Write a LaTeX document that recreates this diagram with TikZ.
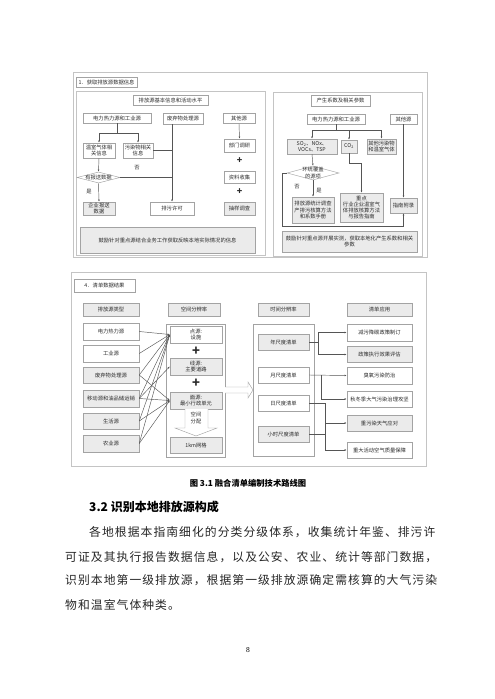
\documentclass[tikz,border=0pt]{standalone}
\usepackage{fontspec}
\setmainfont{Noto Sans CJK SC}
\newfontfamily\bodyfont[LetterSpace=9]{Noto Sans CJK SC}
\newfontfamily\numfont{Liberation Serif}
\usepackage{tikz}
\usetikzlibrary{arrows.meta,shapes.geometric}
\definecolor{pgframe}{HTML}{C4C4C4}
\definecolor{pgbox}{HTML}{A3A3A3}
\definecolor{pgfill}{HTML}{EBEBEB}
\definecolor{pgline}{HTML}{555555}
\definecolor{pgtext}{HTML}{2B2B2B}

\begin{document}
\begin{tikzpicture}[
 x=1pt,y=-1pt,>={Latex[length=2.2pt,width=1.8pt]},
 font=\fontsize{5.3}{6.3}\selectfont,
 frm/.style={draw=pgframe,line width=0.7pt,inner sep=0pt},
 bx/.style={draw=pgbox,line width=0.45pt,fill=white,inner sep=0.5pt,
   align=center,text=pgtext},
 gbx/.style={bx,fill=pgfill},
 sz/.style 2 args={minimum width=#1,minimum height=#2},
 dia/.style={diamond,draw=pgbox,line width=0.45pt,fill=white,aspect=4,
   inner xsep=-4pt,inner ysep=-2pt,align=center,text=pgtext},
 flow/.style={->,draw=pgline,line width=0.45pt},
 link/.style={draw=pgline,line width=0.45pt},
 lbl/.style={text=pgtext},
 plus/.style={text=pgtext,font=\fontsize{#1}{#1}\selectfont\bfseries},
 hollow/.style={draw=pgbox,line width=0.45pt,fill=white}
]
\useasboundingbox (0,0) rectangle (495,699);

% 1. source data
\node[frm,sz={354}{185}] (panA) at (250,164.5) {};
\node[bx,sz={61}{10}] (titleA) at (106.5,82) {1．获取排放源数据信息};
\node[frm,sz={189}{164}] (actA) at (170.5,173) {};
\node[frm,sz={149}{164}] (facB) at (347.5,174) {};

\node[bx,sz={75}{10}] (hdrA) at (170.5,100) {排放源基本信息和活动水平};
\node[bx,sz={68}{10}] (elecA) at (117,118) {电力热力源和工业源};
\node[bx,sz={40}{11}] (wasteA) at (183,118.5) {废弃物处理源};
\node[bx,sz={32}{10}] (otherA) at (239,118.5) {其他源};
\node[bx,sz={32}{15}] (ghgA) at (99,150.5) {温室气体相\\关信息};
\node[bx,sz={30}{15}] (polA) at (138,150.5) {污染物相关\\信息};
\node[dia,minimum width=43,minimum height=11] (diaA) at (98.5,177.5) {有报送数据};
\node[gbx,sz={32}{13}] (entA) at (99,208.5) {企业报送\\数据};
\node[bx,sz={44}{13}] (permA) at (172,208.5) {排污许可};
\node[bx,sz={31}{13}] (surveyA) at (239.5,145.5) {部门调研};
\node[bx,sz={31}{12}] (collectA) at (239.5,177) {资料收集};
\node[gbx,sz={31}{13}] (sampleA) at (239.5,208.5) {抽样调查};
\node[plus=9] (plusA1) at (239.5,161) {+};
\node[plus=9] (plusA2) at (239.5,192) {+};
\node[lbl] (noA) at (137,168) {否};
\node[lbl] (yesA) at (89,192) {是};
\node[gbx,sz={175}{26}] (noteA) at (167.5,240) {鼓励针对重点源结合业务工作获取反映本地实际情况的信息};

\coordinate (jA) at (117,133);
\draw[link] (elecA.south) -- (jA);
\draw[flow] (jA) -| (ghgA.north);
\draw[flow] (jA) -| (polA.north);
\draw[flow] (ghgA.south) -- (diaA.north);
\draw[flow] (diaA.south) -- (entA.north);
\draw[link] (polA.east) -- (permA.north |- polA.east);
\draw[link] (diaA.east) -- (permA.north |- diaA.east);
\draw[flow] (permA.north |- wasteA.south) -- (permA.north);
\draw[flow] (otherA.south) -- (surveyA.north);

\node[bx,sz={59}{11}] (hdrB) at (340.5,100.5) {产生系数及相关参数};
\node[bx,sz={58}{10}] (elecB) at (336,119) {电力热力源和工业源};
\node[bx,sz={27}{10}] (otherB) at (403.5,119) {其他源};
\node[gbx,sz={50}{15}] (so2B) at (312,146.5) {SO\textsubscript{2}、NOx、\\VOCs、TSP};
\node[gbx,sz={16}{13}] (co2B) at (349,146.5) {CO\textsubscript{2}};
\node[gbx,sz={29}{15}] (othpolB) at (381.5,146.5) {其他污染物\\和温室气体};
\node[dia,minimum width=52,minimum height=14] (diaB) at (313,173) {环统覆盖\\的源项};
\node[gbx,sz={42}{26}] (statB) at (313,210) {排放源统计调查\\产排污核算方法\\和系数手册};
\node[gbx,sz={43}{29}] (keyB) at (361.5,207.5) {重点\\行业企业温室气\\体排放核算方法\\与报告指南};
\node[gbx,sz={27}{15}] (appxB) at (403.5,205.5) {指南附录};
\node[lbl] (noB) at (297,187) {否};
\node[lbl] (yesB) at (319,191) {是};
\node[gbx,sz={135}{21}] (noteB) at (349.5,241.5) {鼓励针对重点源开展实测，获取本地化产生系数和相关\\参数};

\coordinate (jB) at (336,130);
\draw[link] (elecB.south) -- (jB);
\draw[flow] (jB) -| (so2B.north);
\draw[flow] (jB) -| (co2B.north);
\draw[flow] (jB) -| (othpolB.north);
\draw[flow] (so2B.south) -- (diaB.north);
\draw[flow] (diaB.south) -- (statB.north);
\draw[flow] (co2B.south) -- ++(0,10) -| (keyB.north);
\draw[flow] (otherB.south) -- (appxB.north);
\draw[flow] (diaB.west) -- (282,173) -- (282,226) -| (appxB.south);

% 4. inventory results
\node[frm,sz={355}{194}] (panD) at (248.5,369) {};
\node[bx,sz={61}{13}] (titleD) at (104.5,285.5) {4．清单数据结果};
\node[gbx,sz={56}{13}] (colSrc) at (111,309.5) {排放源类型};
\node[gbx,sz={52}{13}] (colSpace) at (194,309.5) {空间分辨率};
\node[gbx,sz={51}{13}] (colTime) at (283.5,309.5) {时间分辨率};
\node[gbx,sz={65}{13}] (colUse) at (379.5,309.5) {清单应用};

\node[bx,sz={56}{17}] (s1) at (111,331.5) {电力热力源};
\node[bx,sz={56}{17}] (s2) at (111,353.5) {工业源};
\node[gbx,sz={56}{16}] (s3) at (111,375) {废弃物处理源};
\node[gbx,sz={56}{17}] (s4) at (111,398.5) {移动源和油品储运销};
\node[gbx,sz={56}{16}] (s5) at (111,421) {生活源};
\node[gbx,sz={56}{17}] (s6) at (111,443.5) {农业源};

\node[frm,draw=pgbox,line width=0.45pt,sz={59}{133}] (spaceD) at (195.5,390.5) {};
\node[bx,sz={52}{17}] (pt) at (196,334.5) {点源:\\设施};
\node[plus=13] (plusD1) at (196,351) {+};
\node[gbx,sz={52}{17}] (ln) at (196,366.5) {线源:\\主要道路};
\node[plus=13] (plusD2) at (196,383) {+};
\node[gbx,sz={52}{17}] (ar) at (196,400.5) {面源:\\最小行政单元};
\draw[hollow] (185,409) -- (185,428) -- (175,428) -- (196,436) -- (217,428) -- (208,428) -- (208,409);
\node[lbl,align=center] (alloc) at (196,418) {空间\\分配};
\node[gbx,sz={52}{16}] (grid) at (196,445) {1km网格};

\draw[flow] (s1.east) -- (pt.west);
\draw[flow] (s2.east) -- (pt.west);
\draw[flow] (s3.east) -- (pt.west);
\draw[flow] (s4.east) -- (pt.west);
\draw[flow] (s5.east) -- (pt.west);
\draw[flow] (s6.east) -- (pt.west);
\draw[flow] (s4.east) -- (ln.west);
\draw[flow] (s3.east) -- (ar.west);
\draw[flow] (s4.east) -- (ar.west);
\draw[flow] (s5.east) -- (ar.west);
\draw[flow] (s6.east) -- (ar.west);

\draw[hollow] (225,387) -- (248,387) -- (248,382) -- (253,390) -- (248,398) -- (248,393) -- (225,393);

\node[frm,draw=pgbox,line width=0.45pt,sz={61}{132}] (timeD) at (283.5,390) {};
\node[gbx,sz={51}{16}] (t1) at (283.5,342) {年尺度清单};
\node[bx,sz={51}{16}] (t2) at (283.5,375) {月尺度清单};
\node[bx,sz={51}{16}] (t3) at (283.5,403) {日尺度清单};
\node[gbx,sz={51}{16}] (t4) at (283.5,434) {小时尺度清单};

\node[bx,sz={65}{17}] (a1) at (379.5,332.5) {减污降碳政策制订};
\node[gbx,sz={65}{16}] (a2) at (379.5,354.5) {政策执行效果评估};
\node[bx,sz={65}{17}] (a3) at (379.5,375.5) {臭氧污染防治};
\node[bx,sz={65}{16}] (a4) at (379.5,399) {秋冬季大气污染治理攻坚};
\node[gbx,sz={65}{16}] (a5) at (379.5,423) {重污染天气应对};
\node[bx,sz={65}{16}] (a6) at (379.5,450) {重大活动空气质量保障};

\draw[link] (t1.east) -- (318,342);
\draw[flow] (318,342) |- (a1.west);
\draw[flow] (318,342) |- (a2.west);
\draw[flow] (t2.east) -- (a3.west);
\draw[flow] (321,375) |- (a4.west);
\draw[link] (t3.east) -- (325,403);
\draw[link] (t4.east) -- (325,434);
\draw[flow] (325,403) |- (a5.west);
\draw[flow] (325,403) |- (a6.west);

% caption and text
\node[font=\fontsize{8.3}{9}\selectfont\bfseries] (cap) at (248,483) {图 3.1 融合清单编制技术路线图};
\node[anchor=west,inner sep=0pt,font=\fontsize{12}{12}\selectfont\bfseries] (sec) at (89,507) {3.2 识别本地排放源构成};
\node[anchor=west,inner sep=0pt,font=\fontsize{11.8}{12}\bodyfont,text=black!85] (body1) at (89,532) {各地根据本指南细化的分类分级体系，收集统计年鉴、排污许};
\node[anchor=west,inner sep=0pt,font=\fontsize{11.8}{12}\bodyfont,text=black!85] (body2) at (65,557) {可证及其执行报告数据信息，以及公安、农业、统计等部门数据，};
\node[anchor=west,inner sep=0pt,font=\fontsize{11.8}{12}\bodyfont,text=black!85] (body3) at (65,580.5) {识别本地第一级排放源，根据第一级排放源确定需核算的大气污染};
\node[anchor=west,inner sep=0pt,font=\fontsize{11.8}{12}\bodyfont,text=black!85] (body4) at (65,605) {物和温室气体种类。};
\node[font=\fontsize{7.5}{8}\numfont] (pageno) at (248,650) {8};
\end{tikzpicture}
\end{document}
